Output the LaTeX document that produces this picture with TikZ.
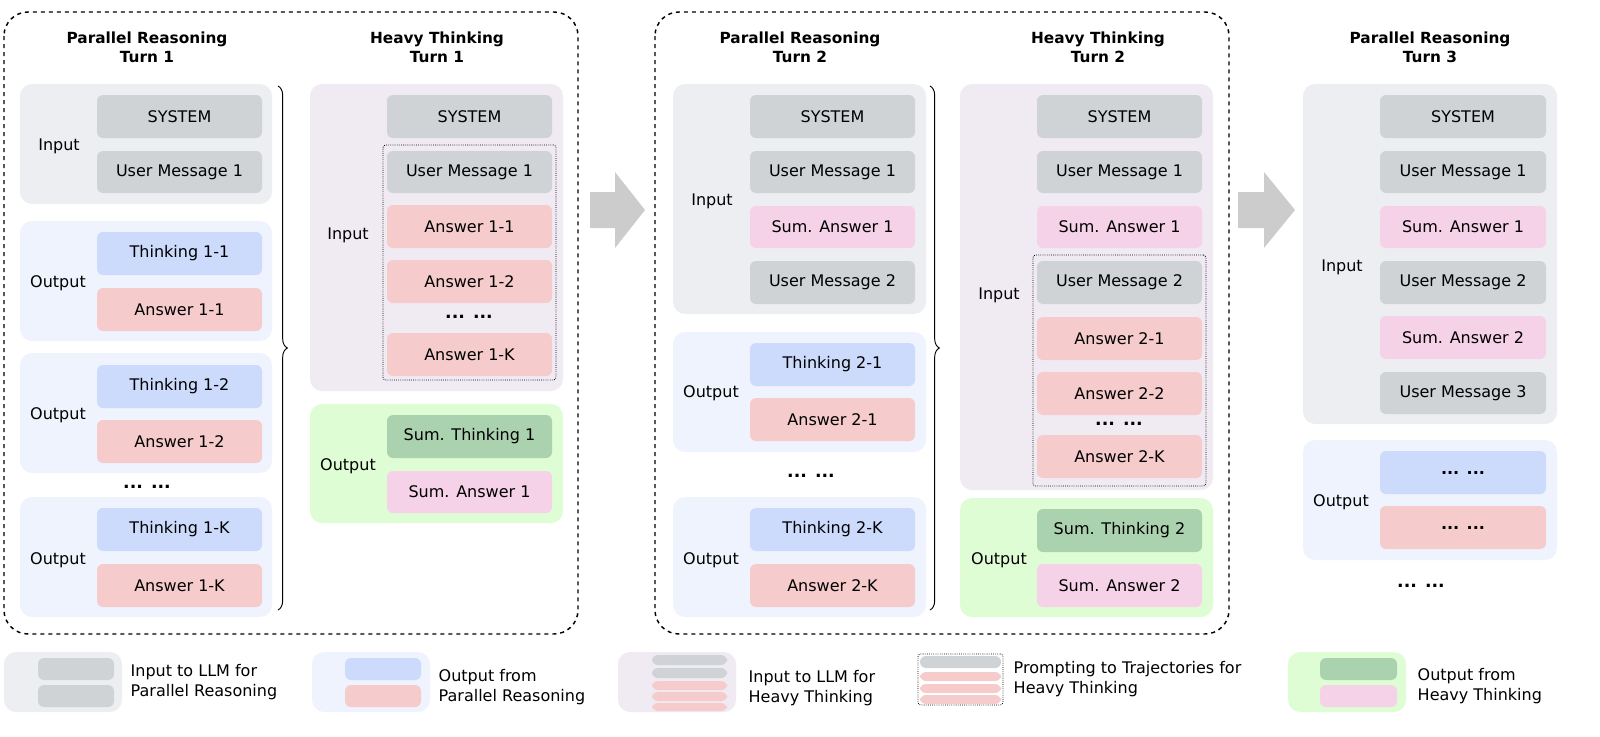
\documentclass[tikz,border=0pt]{standalone}
\usepackage{fontspec}
\setmainfont{DejaVu Sans}
\usetikzlibrary{decorations.pathreplacing}
\definecolor{cgray}{HTML}{D0D3D6}
\definecolor{ggray}{HTML}{ECEEF2}
\definecolor{cblue}{HTML}{CCDBFC}
\definecolor{gblue}{HTML}{EFF3FE}
\definecolor{cpink}{HTML}{F5CBCB}
\definecolor{gpurp}{HTML}{F0EAF2}
\definecolor{ggreen}{HTML}{DFFDD4}
\definecolor{cgreen}{HTML}{ABD2AF}
\definecolor{cpink2}{HTML}{F6D2E8}
\definecolor{carrow}{HTML}{CCCCCC}
\tikzset{
 bbox/.style={rounded corners=4.5pt,inner sep=0pt,font=\fontsize{12}{14}\selectfont},
 grp/.style={rounded corners=9pt,inner sep=0pt},
 lbl/.style={font=\fontsize{12}{14}\selectfont},
 ttl/.style={font=\fontsize{11.5}{14.5}\selectfont\bfseries,align=center},
 leg/.style={font=\fontsize{12}{15.5}\selectfont,align=left,anchor=west},
 outer/.style={draw,dashed,line width=1.1pt,rounded corners=18pt},
 dotbox/.style={draw,densely dotted,line width=0.6pt,rounded corners=2pt},
 dots/.style={font=\fontsize{13}{14}\selectfont\bfseries},
 brc/.style={decorate,decoration={brace,amplitude=7pt},line width=0.7pt},
}
\newcommand\bx[7]{\node[bbox,fill=#6,minimum width={(#4-#2)*0.75pt},minimum height={(#5-#3)*0.75pt}] (#1) at ({(#2+#4)/2},{(#3+#5)/2}) {#7};}
\newcommand\gp[6]{\node[grp,fill=#6,minimum width={(#4-#2)*0.75pt},minimum height={(#5-#3)*0.75pt}] (#1) at ({(#2+#4)/2},{(#3+#5)/2}) {};}
\newcommand\dbx[5]{\node[dotbox,inner sep=0pt,minimum width={(#4-#2)*0.75pt},minimum height={(#5-#3)*0.75pt}] (#1) at ({(#2+#4)/2},{(#3+#5)/2}) {};}
\begin{document}
\begin{tikzpicture}[x=0.75pt,y=-0.75pt]
\useasboundingbox (0,0) rectangle (1600,736);
\draw[outer] (4,12) rectangle (578,634);
\draw[outer] (655,12) rectangle (1229,634);
\fill[carrow] (590,192) -- (615,192) -- (615,172) -- (645,210) -- (615,248) -- (615,228) -- (590,228) -- cycle;
\fill[carrow] (1238,192) -- (1264,192) -- (1264,172) -- (1295,210) -- (1264,248) -- (1264,228) -- (1238,228) -- cycle;
\node[ttl] (t1) at (147,47) {Parallel Reasoning\\Turn 1};
\gp{g1in}{20}{84}{272}{204}{ggray}
\bx{p1sys}{97}{95}{262}{138}{cgray}{SYSTEM}
\bx{p1um1}{97}{151}{262}{193}{cgray}{User Message 1}
\node[lbl] (l1in) at (59,146) {Input};
\gp{g1o1}{20}{221}{272}{341}{gblue}
\bx{p1t1}{97}{232}{262}{275}{cblue}{Thinking 1-1}
\bx{p1a1}{97}{288}{262}{331}{cpink}{Answer 1-1}
\node[lbl] (l1o1) at (58,283) {Output};
\gp{g1o2}{20}{353}{272}{473}{gblue}
\bx{p1t2}{97}{365}{262}{408}{cblue}{Thinking 1-2}
\bx{p1a2}{97}{420}{262}{463}{cpink}{Answer 1-2}
\node[lbl] (l1o2) at (58,415) {Output};
\node[dots] (d1) at (147,487) {... ...};
\gp{g1o3}{20}{497}{272}{617}{gblue}
\bx{p1tk}{97}{508}{262}{551}{cblue}{Thinking 1-K}
\bx{p1ak}{97}{564}{262}{607}{cpink}{Answer 1-K}
\node[lbl] (l1o3) at (58,560) {Output};
\coordinate (b1a) at (278,86);
\coordinate (b1b) at (278,610);
\draw[brc] (b1a) -- (b1b);
\node[ttl] (t2) at (437,47) {Heavy Thinking\\Turn 1};
\gp{h1in}{310}{84}{563}{391}{gpurp}
\bx{h1sys}{387}{95}{552}{138}{cgray}{SYSTEM}
\dbx{h1dot}{383}{145}{556}{380}
\bx{h1um1}{387}{151}{552}{193}{cgray}{User Message 1}
\bx{h1a1}{387}{205}{552}{248}{cpink}{Answer 1-1}
\bx{h1a2}{387}{260}{552}{303}{cpink}{Answer 1-2}
\node[dots] (d2) at (469,317) {... ...};
\bx{h1ak}{387}{333}{552}{376}{cpink}{Answer 1-K}
\node[lbl] (l2in) at (348,235) {Input};
\gp{h1out}{310}{404}{563}{523}{ggreen}
\bx{h1st}{387}{415}{552}{458}{cgreen}{Sum. Thinking 1}
\bx{h1sa}{387}{471}{552}{513}{cpink2}{Sum. Answer 1}
\node[lbl] (l2out) at (348,466) {Output};
\node[ttl] (t3) at (800,47) {Parallel Reasoning\\Turn 2};
\gp{g2in}{673}{84}{926}{314}{ggray}
\bx{p2sys}{750}{95}{915}{138}{cgray}{SYSTEM}
\bx{p2um1}{750}{151}{915}{193}{cgray}{User Message 1}
\bx{p2sa1}{750}{206}{915}{248}{cpink2}{Sum. Answer 1}
\bx{p2um2}{750}{261}{915}{304}{cgray}{User Message 2}
\node[lbl] (l3in) at (712,201) {Input};
\gp{g2o1}{673}{332}{926}{452}{gblue}
\bx{p2t1}{750}{343}{915}{386}{cblue}{Thinking 2-1}
\bx{p2a1}{750}{398}{915}{441}{cpink}{Answer 2-1}
\node[lbl] (l3o1) at (711,393) {Output};
\node[dots] (d3) at (811,476) {... ...};
\gp{g2o2}{673}{497}{926}{617}{gblue}
\bx{p2tk}{750}{508}{915}{551}{cblue}{Thinking 2-K}
\bx{p2ak}{750}{564}{915}{607}{cpink}{Answer 2-K}
\node[lbl] (l3o2) at (711,560) {Output};
\coordinate (b2a) at (930,86);
\coordinate (b2b) at (930,610);
\draw[brc] (b2a) -- (b2b);
\node[ttl] (t4) at (1098,47) {Heavy Thinking\\Turn 2};
\gp{h2in}{960}{84}{1213}{490}{gpurp}
\bx{h2sys}{1037}{95}{1202}{138}{cgray}{SYSTEM}
\bx{h2um1}{1037}{151}{1202}{193}{cgray}{User Message 1}
\bx{h2sa1}{1037}{206}{1202}{248}{cpink2}{Sum. Answer 1}
\dbx{h2dot}{1033}{255}{1206}{486}
\bx{h2um2}{1037}{261}{1202}{304}{cgray}{User Message 2}
\bx{h2a1}{1037}{317}{1202}{360}{cpink}{Answer 2-1}
\bx{h2a2}{1037}{372}{1202}{415}{cpink}{Answer 2-2}
\node[dots] (d4) at (1119,424) {... ...};
\bx{h2ak}{1037}{435}{1202}{478}{cpink}{Answer 2-K}
\node[lbl] (l4in) at (999,295) {Input};
\gp{h2out}{960}{498}{1213}{617}{ggreen}
\bx{h2st}{1037}{509}{1202}{552}{cgreen}{Sum. Thinking 2}
\bx{h2sa}{1037}{564}{1202}{607}{cpink2}{Sum. Answer 2}
\node[lbl] (l4out) at (999,560) {Output};
\node[ttl] (t5) at (1430,47) {Parallel Reasoning\\Turn 3};
\gp{g3in}{1303}{84}{1557}{424}{ggray}
\bx{p3sys}{1380}{95}{1546}{138}{cgray}{SYSTEM}
\bx{p3um1}{1380}{151}{1546}{193}{cgray}{User Message 1}
\bx{p3sa1}{1380}{206}{1546}{248}{cpink2}{Sum. Answer 1}
\bx{p3um2}{1380}{261}{1546}{304}{cgray}{User Message 2}
\bx{p3sa2}{1380}{316}{1546}{359}{cpink2}{Sum. Answer 2}
\bx{p3um3}{1380}{372}{1546}{414}{cgray}{User Message 3}
\node[lbl] (l5in) at (1342,267) {Input};
\gp{g3out}{1303}{440}{1557}{560}{gblue}
\bx{p3t}{1380}{451}{1546}{494}{cblue}{\bfseries ... ...}
\bx{p3a}{1380}{506}{1546}{549}{cpink}{\bfseries ... ...}
\node[lbl] (l5out) at (1341,502) {Output};
\node[dots] (d5) at (1421,586) {... ...};
\gp{lg1}{4}{652}{122}{712}{ggray}
\bx{lg1a}{38}{658}{114}{680}{cgray}{}
\bx{lg1b}{38}{685}{114}{707}{cgray}{}
\node[leg] (lt1) at (126,682) {Input to LLM for\\Parallel Reasoning};
\gp{lg2}{312}{652}{430}{712}{gblue}
\bx{lg2a}{345}{658}{421}{680}{cblue}{}
\bx{lg2b}{345}{685}{421}{707}{cpink}{}
\node[leg] (lt2) at (434,687) {Output from\\Parallel Reasoning};
\gp{lg3}{618}{652}{736}{712}{gpurp}
\bx{lg3a}{652}{655}{727}{665}{cgray}{}
\bx{lg3b}{652}{668}{727}{678}{cgray}{}
\bx{lg3c}{652}{681}{727}{690}{cpink}{}
\bx{lg3d}{652}{692}{727}{701}{cpink}{}
\bx{lg3e}{652}{703}{727}{711}{cpink}{}
\node[leg] (lt3) at (744,688) {Input to LLM for\\Heavy Thinking};
\dbx{lg4}{918}{654}{1003}{705}
\bx{lg4a}{920}{656}{1001}{668}{cgray}{}
\bx{lg4b}{920}{672}{1001}{681}{cpink}{}
\bx{lg4c}{920}{684}{1001}{693}{cpink}{}
\bx{lg4d}{920}{695}{1001}{704}{cpink}{}
\node[leg] (lt4) at (1009,679) {Prompting to Trajectories for\\Heavy Thinking};
\gp{lg5}{1288}{652}{1406}{712}{ggreen}
\bx{lg5a}{1320}{658}{1397}{680}{cgreen}{}
\bx{lg5b}{1320}{685}{1397}{707}{cpink2}{}
\node[leg] (lt5) at (1413,686) {Output from\\Heavy Thinking};
\end{tikzpicture}
\end{document}
